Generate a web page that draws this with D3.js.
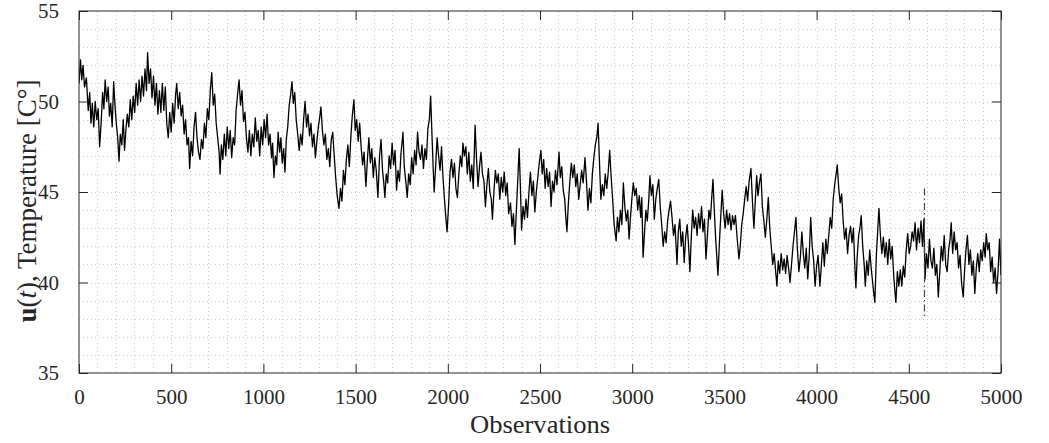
<!DOCTYPE html>
<html>
<head>
<meta charset="utf-8">
<script src="https://cdn.jsdelivr.net/npm/d3@7"></script>
<style>
  html, body { margin: 0; padding: 0; background: #fff; }
  svg { display: block; font-family: "Liberation Serif", "DejaVu Serif", serif; }
</style>
</head>
<body>
<div id="chart"></div>
<script>
const observation = [
  0,8,15,22,30,40,50,58,65,72,80,88,96,104,112,120,128,135,142,150,158,165,172,180,188,195,203,210,217,224,232,240,247,254,262,270,278,286,294,302,310,318,326,334,342,350,358,366,372,380,388,396,404,412,420,428,436,444,452,460,468,476,484,492,
  500,508,516,524,530,538,546,554,562,570,578,586,594,600,608,616,624,632,640,648,656,664,672,680,688,696,704,712,720,728,736,744,752,760,765,772,780,788,796,804,812,820,828,836,844,852,860,868,876,884,892,900,908,916,924,932,940,948,956,964,972,980,988,996,1004,
  1012,1020,1028,1036,1044,1050,1057,1065,1072,1080,1088,1095,1102,1110,1117,1124,1132,1140,1148,1155,1162,1170,1178,1186,1194,1202,1210,1218,1226,1234,1242,1250,1258,1266,1274,1282,1290,1298,1305,1312,1320,1328,1336,1344,1352,1360,1368,1376,1384,1392,1400,1410,1418,1426,1434,1442,1450,1458,1466,1474,1482,1491,1498,1506,
  1514,1522,1530,1538,1546,1556,1564,1572,1580,1588,1596,1604,1612,1621,1630,1638,1646,1652,1659,1666,1674,1682,1690,1698,1706,1714,1722,1730,1738,1746,1757,1764,1772,1780,1788,1796,1804,1812,1820,1828,1836,1844,1852,1860,1868,1876,1884,1892,1900,1907,1914,1920,1926,1934,1942,1950,1958,1966,1974,1982,1990,1996,2004,2012,2020,
  2028,2036,2044,2052,2060,2068,2076,2082,2090,2098,2106,2114,2122,2130,2138,2148,2156,2164,2172,2180,2188,2196,2204,2212,2220,2228,2236,2242,2250,2258,2266,2274,2282,2290,2298,2306,2314,2322,2330,2340,2348,2356,2364,2372,2380,2387,2394,2400,2408,2416,2424,2432,2440,2448,2456,2464,2472,2480,2488,2496,2505,2512,2520,2528,2536,
  2544,2552,2560,2568,2576,2584,2592,2603,2610,2618,2626,2634,2640,2646,2654,2662,2670,2678,2686,2694,2702,2710,2718,2726,2734,2744,2752,2760,2768,2776,2784,2792,2800,2808,2815,2822,2830,2838,2846,2854,2862,2870,2878,2886,2894,2902,2913,2920,2928,2936,2944,2952,2960,2968,2976,2983,2990,2998,3006,3014,3022,3030,3038,3046,
  3052,3059,3066,3074,3082,3090,3096,3104,3112,3120,3128,3136,3144,3152,3160,3168,3176,3184,3192,3200,3208,3216,3224,3232,3243,3250,3258,3266,3274,3282,3290,3298,3306,3313,3320,3328,3336,3344,3352,3360,3368,3376,3384,3392,3400,3408,3416,3424,3432,3438,3446,3454,3465,3472,3480,3488,3496,3504,3512,3520,3528,3536,3544,3552,
  3560,3568,3579,3586,3594,3602,3610,3618,3626,3634,3644,3652,3660,3668,3675,3682,3690,3698,3706,3714,3722,3730,3738,3746,3754,3762,3770,3778,3785,3792,3800,3808,3816,3824,3832,3840,3848,3856,3864,3872,3880,3888,3896,3904,3912,3920,3928,3936,3944,3952,3960,3968,3976,3984,3992,4000,4008,4018,4026,4034,4042,4050,
  4058,4066,4074,4082,4090,4098,4106,4112,4120,4128,4136,4144,4152,4160,4168,4176,4184,4192,4200,4206,4213,4220,4228,4235,4242,4250,4258,4264,4272,4280,4288,4296,4304,4310,4316,4324,4332,4338,4346,4354,4362,4370,4378,4386,4394,4402,4410,4418,4424,4430,4438,4446,4454,4462,4470,4478,4486,4494,4502,4510,4518,4526,4534,4542,4550,4558,4566,4574,
  4582,4588,4596,4604,4612,4620,4628,4636,4644,4652,4660,4668,4676,4684,4692,4700,4708,4716,4724,4730,4738,4746,4754,4762,4770,4778,4786,4795,4802,4810,4818,4826,4834,4842,4850,4858,4866,4874,4882,4890,4898,4906,4914,4920,4928,4936,4944,4952,4960,4968,4976,4984,4992,5000
];
const temperature = [
  51.0,52.3,51.2,52.0,50.8,51.3,49.5,50.5,48.8,49.9,48.6,50.0,49.0,49.6,47.5,48.8,50.5,49.6,51.2,50.0,50.8,49.2,49.9,48.6,51.1,49.8,48.7,48.0,46.7,48.2,47.6,49.0,47.3,48.4,49.3,48.6,50.1,49.0,50.3,49.4,51.0,49.8,51.2,50.0,51.4,50.3,51.8,50.6,52.7,51.0,51.8,50.2,51.4,49.8,51.0,49.3,50.6,49.4,51.0,49.5,50.8,48.8,48.0,49.4,
  48.3,49.9,48.8,50.4,51.0,49.6,50.5,49.2,49.8,48.2,49.0,47.6,48.0,46.3,47.8,47.0,48.6,49.4,48.0,47.2,46.8,47.9,47.4,48.8,48.0,49.6,49.0,50.6,51.6,49.8,50.4,48.8,48.0,47.2,46.0,47.6,46.8,48.2,47.0,48.6,47.4,48.4,46.9,48.0,47.6,49.5,50.4,51.2,49.8,50.6,48.9,49.4,48.0,47.2,48.4,47.0,48.2,47.5,49.1,47.8,48.4,47.0,48.6,47.6,49.0,
  48.0,49.3,47.6,48.2,46.9,47.7,45.8,47.0,46.5,48.3,47.2,48.0,46.6,47.4,46.1,47.9,48.6,49.8,50.4,51.1,49.9,50.5,49.0,48.2,47.3,48.2,47.6,49.0,50.0,48.6,49.3,48.1,48.8,47.5,48.2,46.9,47.8,48.6,49.1,49.7,48.4,47.6,48.2,46.8,47.4,46.4,47.9,48.3,47.0,45.8,44.8,44.1,45.2,44.5,46.2,45.4,46.8,47.6,46.4,48.0,49.2,50.1,48.4,49.0,
  47.8,48.8,47.5,46.5,47.2,45.3,46.8,48.0,46.6,47.4,45.8,46.9,46.2,44.7,47.0,47.9,46.2,45.6,44.7,46.0,45.5,47.0,46.3,47.7,46.5,47.3,45.1,46.2,45.6,47.1,48.3,46.4,45.6,44.7,46.0,45.4,46.9,46.0,47.3,46.5,48.3,47.2,46.8,47.6,46.3,47.4,46.8,48.5,49.0,50.3,48.2,46.5,45.0,46.4,48.0,47.0,46.2,47.5,45.8,44.6,43.5,42.8,44.2,46.1,46.8,
  45.8,46.6,45.2,44.7,46.0,47.0,46.4,47.7,47.0,47.5,46.0,47.2,45.6,46.5,45.2,48.7,46.8,45.3,46.4,47.2,46.0,45.6,44.2,45.4,46.3,45.0,44.6,43.5,45.0,46.2,45.5,46.0,44.6,45.8,45.0,46.1,44.8,45.5,43.8,44.4,43.1,43.8,42.1,44.0,45.8,47.4,45.2,42.9,44.2,43.5,44.6,43.6,45.0,46.1,44.8,45.6,43.9,45.0,45.8,46.6,47.3,46.0,46.8,45.2,46.3,
  45.3,46.1,44.2,45.6,45.0,46.2,45.4,47.2,45.8,46.4,45.1,44.6,43.6,42.8,44.4,45.6,46.6,45.8,46.5,45.3,46.0,44.6,45.4,46.2,45.5,46.9,45.6,44.0,45.2,44.4,46.0,46.9,47.6,48.0,48.8,46.8,44.6,45.4,44.8,46.0,45.2,46.1,47.3,45.8,44.6,43.2,42.3,43.6,42.8,44.0,43.2,45.5,44.2,43.4,44.0,42.4,43.5,44.6,45.5,44.8,45.2,44.0,44.8,43.6,
  44.7,41.4,42.6,44.0,43.4,44.6,45.9,44.8,45.4,43.5,44.6,45.2,45.7,44.2,43.2,42.0,42.8,42.2,43.4,44.0,44.5,43.6,42.6,43.2,41.0,42.8,43.5,42.0,42.8,41.1,42.5,43.2,42.0,40.6,42.4,44.0,43.0,43.6,42.6,43.8,43.0,44.2,42.8,43.5,41.3,42.6,44.0,43.5,44.8,45.7,43.8,42.2,40.4,42.0,43.6,45.1,43.8,43.0,44.0,43.2,43.8,42.9,43.7,43.2,
  43.7,42.6,41.3,42.0,43.2,43.8,44.6,45.3,44.5,45.6,46.3,44.5,43.0,44.6,45.9,44.8,45.5,46.0,44.2,43.4,42.5,43.5,44.7,43.0,42.0,41.0,41.6,40.6,39.8,41.2,40.5,41.6,40.7,41.3,40.5,41.5,40.8,40.0,41.0,42.0,42.8,43.6,41.8,40.6,41.4,42.8,41.6,40.8,41.9,40.2,41.5,43.6,42.0,41.2,39.8,40.9,41.5,39.8,41.0,42.2,40.9,42.4,
  41.6,42.6,43.6,43.0,44.6,45.4,46.0,46.5,45.2,44.4,44.9,43.4,42.4,43.0,41.6,42.6,43.1,42.2,43.0,41.2,39.7,41.4,42.6,43.0,43.7,42.0,41.0,39.8,41.2,40.4,41.8,40.8,40.0,39.4,38.9,41.5,43.0,44.1,42.6,41.6,42.5,41.4,42.2,41.0,42.4,41.3,42.0,40.4,39.6,38.9,40.6,39.8,40.7,39.8,40.9,40.3,41.8,42.7,41.6,42.0,42.8,42.3,43.3,41.8,43.0,42.2,43.4,42.0,
  43.5,40.2,41.6,40.8,42.4,41.2,40.8,41.9,40.4,41.0,39.2,40.6,42.0,41.2,42.6,41.0,40.6,41.8,42.4,43.3,41.6,42.8,41.8,42.2,40.8,41.5,40.0,39.2,40.6,41.8,42.6,41.0,41.8,40.4,41.2,39.4,40.8,41.6,40.6,41.8,41.2,42.2,41.4,42.7,41.8,42.2,40.6,41.4,40.0,40.8,39.4,40.6,42.4,40.4
];
// axis settings ---------------------------------------------------------------
const xTicks = [0, 500, 1000, 1500, 2000, 2500, 3000, 3500, 4000, 4500, 5000];
const yTicks = [35, 40, 45, 50, 55];
const xMinor = d3.range(0, 5001, 100);
const yMinor = d3.range(35, 55.01, 1);
const splitObs = 4585;          // dash-dot marker
const splitRange = [38, 45.2];

// layout ----------------------------------------------------------------------
const width = 1049, height = 443;
const margin = {left: 79, right: 48, top: 11, bottom: 70};
const plotW = width - margin.left - margin.right;
const plotH = height - margin.top - margin.bottom;

const svg = d3.select('#chart').append('svg')
  .attr('width', width)
  .attr('height', height);

const x = d3.scaleLinear().domain([0, 5000]).range([0, plotW]);
const y = d3.scaleLinear().domain([35, 55]).range([plotH, 0]);

const g = svg.append('g')
  .attr('transform', 'translate(' + margin.left + ',' + margin.top + ')');

// grid (minor + major, dotted) ---------------------------------------------------
const gridColor = '#cacaca';
g.append('g').selectAll('line')
  .data(xMinor.slice(1, -1))
  .join('line')
  .attr('x1', d => Math.round(x(d)) + 0.5).attr('x2', d => Math.round(x(d)) + 0.5)
  .attr('y1', 0).attr('y2', plotH)
  .attr('stroke', gridColor)
  .attr('stroke-dasharray', '1,3');
g.append('g').selectAll('line')
  .data(yMinor.slice(1, -1))
  .join('line')
  .attr('y1', d => Math.round(y(d)) + 0.5).attr('y2', d => Math.round(y(d)) + 0.5)
  .attr('x1', 0).attr('x2', plotW)
  .attr('stroke', gridColor)
  .attr('stroke-dasharray', '1,3');

// data line ---------------------------------------------------------------------
svg.append('clipPath').attr('id', 'clip')
  .append('rect').attr('width', plotW).attr('height', plotH);

const series = observation.map((o, i) => ({o: o, t: temperature[i]}));
const line = d3.line()
  .x(d => x(d.o))
  .y(d => y(d.t));

g.append('path')
  .datum(series)
  .attr('clip-path', 'url(#clip)')
  .attr('fill', 'none')
  .attr('stroke', '#000')
  .attr('stroke-width', 1.3)
  .attr('stroke-linejoin', 'round')
  .attr('d', line);

// dash-dot split marker
g.append('line')
  .attr('x1', x(splitObs)).attr('x2', x(splitObs))
  .attr('y1', y(splitRange[1])).attr('y2', y(splitRange[0]))
  .attr('stroke', '#444')
  .attr('stroke-width', 1.2)
  .attr('stroke-dasharray', '7,3,1.5,3');

// axes ---------------------------------------------------------------------------
const axisColor = '#262626';
const tickLen = 9;
const fmt = d3.format('d');
const xAxis = d3.axisBottom(x).tickValues(xTicks).tickFormat(fmt).tickSizeInner(-tickLen).tickSizeOuter(0).tickPadding(16);
const yAxis = d3.axisLeft(y).tickValues(yTicks).tickFormat(fmt).tickSizeInner(-tickLen).tickSizeOuter(0).tickPadding(20);

const gx = g.append('g')
  .attr('transform', 'translate(0,' + plotH + ')')
  .call(xAxis);
const gy = g.append('g').call(yAxis);
// mirrored ticks top / right
g.append('g').call(d3.axisTop(x).tickValues(xTicks).tickSizeInner(-tickLen).tickSizeOuter(0).tickFormat(''));
g.append('g').attr('transform', 'translate(' + plotW + ',0)')
  .call(d3.axisRight(y).tickValues(yTicks).tickSizeInner(-tickLen).tickSizeOuter(0).tickFormat(''));

g.selectAll('.domain').remove();
g.selectAll('.tick line').attr('stroke', axisColor);
[gx, gy].forEach(a => a.selectAll('text')
  .attr('fill', axisColor)
  .style('font-family', '"Liberation Serif", serif')
  .style('font-size', '21px'));

g.append('rect')
  .attr('width', plotW).attr('height', plotH)
  .attr('fill', 'none')
  .attr('stroke', axisColor)
  .attr('stroke-width', 1);

// labels ---------------------------------------------------------------------------
svg.append('text')
  .attr('x', margin.left + plotW / 2)
  .attr('y', 433)
  .attr('text-anchor', 'middle')
  .attr('fill', axisColor)
  .attr('textLength', 140)
  .attr('lengthAdjust', 'spacingAndGlyphs')
  .style('font-size', '25px')
  .text('Observations');

const yl = svg.append('text')
  .attr('transform', 'translate(36,201) rotate(-90)')
  .attr('text-anchor', 'middle')
  .attr('fill', axisColor)
  .style('font-size', '27px');
yl.append('tspan').attr('font-weight', 'bold').text('u');
yl.append('tspan').text('(');
yl.append('tspan').attr('font-style', 'italic').text('t');
yl.append('tspan').text('), Temperature [C°]');
</script>
</body>
</html>
